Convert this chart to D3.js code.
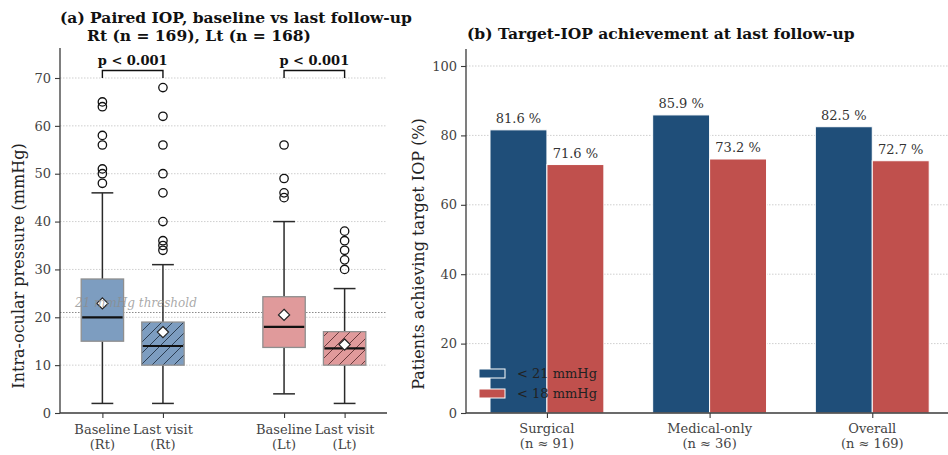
<!DOCTYPE html>
<html>
<head>
<meta charset="utf-8">
<script src="https://cdn.jsdelivr.net/npm/d3@7"></script>
<style>
  html, body { margin: 0; padding: 0; background: #fff; }
  svg { display: block; font-family: "DejaVu Serif", serif; }
</style>
</head>
<body>
<svg id="chart" width="948" height="455"></svg>
<script>
// ---- Panel (a): paired IOP box plots ----
const boxLabels = [["Baseline", "(Rt)"], ["Last visit", "(Rt)"], ["Baseline", "(Lt)"], ["Last visit", "(Lt)"]];
const boxPositions = [1, 2, 4, 5];
const boxQ1 = [15, 10, 13.7, 10];
const boxMedian = [20, 14, 18, 13.5];
const boxQ3 = [28, 19, 24.3, 17];
const whiskerLow = [2, 2, 4, 2];
const whiskerHigh = [46, 31, 40, 26];
const boxMean = [22.9, 16.9, 20.5, 14.3];
const boxOutliers = [
  [48, 50, 51, 56, 58, 64, 65],
  [34, 35, 36, 40, 46, 50, 56, 62, 68],
  [45, 46, 49, 56],
  [30, 32, 34, 36, 38]
];
const boxHatched = [false, true, false, true];
const boxEye = ["Rt", "Rt", "Lt", "Lt"];
const iopTicks = [0, 10, 20, 30, 40, 50, 60, 70];
const threshold = 21;
const pairs = [[1, 2, "p < 0.001"], [4, 5, "p < 0.001"]];

// ---- Panel (b): target-IOP achievement ----
const groupNames = [["Surgical", "(n \u2248 91)"], ["Medical-only", "(n \u2248 36)"], ["Overall", "(n \u2248 169)"]];
const below21 = [81.6, 85.9, 82.5];
const below18 = [71.6, 73.2, 72.7];
const seriesNames = ["< 21 mmHg", "< 18 mmHg"];
const pctTicks = [0, 20, 40, 60, 80, 100];

const svg = d3.select("#chart");
const axisColor = "#3a3a3a";
const tickText = "#444";
const tickSize = 13;

const eyeFill = { Rt: "#7d9dc0", Lt: "#e09a9b" };
const eyeHatch = { Rt: "#2d3e52", Lt: "#6a3a3c" };
const barColors = ["#1f4e79", "#c0504d"];

// hatch patterns for follow-up boxes
const defs = svg.append("defs");
Object.keys(eyeFill).forEach(k => {
  const p = defs.append("pattern")
    .attr("id", "hatch-" + k)
    .attr("patternUnits", "userSpaceOnUse")
    .attr("width", 11).attr("height", 11);
  p.append("rect").attr("width", 11).attr("height", 11).attr("fill", eyeFill[k]);
  p.append("path")
    .attr("d", "M0,11 L11,0 M-3,3 L3,-3 M8,14 L14,8")
    .attr("stroke", eyeHatch[k]).attr("stroke-width", 1);
});

// ===== Panel (a) =====
const xA = d3.scaleLinear().domain([0.3, 5.7]).range([60, 387]);
const yA = d3.scaleLinear().domain([0, 70]).range([413, 78]);
const gA = svg.append("g");

// grid
gA.append("g").selectAll("line").data(iopTicks.filter(t => t > 0)).join("line")
  .attr("x1", 60).attr("x2", 387)
  .attr("y1", d => yA(d)).attr("y2", d => yA(d))
  .attr("stroke", "#cfcfcf").attr("stroke-width", 1).attr("stroke-dasharray", "1.5,1.5");

// threshold line
gA.append("line")
  .attr("x1", 60).attr("x2", 387)
  .attr("y1", yA(threshold)).attr("y2", yA(threshold))
  .attr("stroke", "#8a8a8a").attr("stroke-width", 1.2).attr("stroke-dasharray", "1.5,1.5");

const boxW = 0.7, capW = 0.36;
const boxes = gA.append("g").selectAll("g").data(boxPositions.map((p, i) => i)).join("g");

// whiskers
boxes.append("line")
  .attr("x1", i => xA(boxPositions[i])).attr("x2", i => xA(boxPositions[i]))
  .attr("y1", i => yA(whiskerLow[i])).attr("y2", i => yA(boxQ1[i]))
  .attr("stroke", "#2a2a2a").attr("stroke-width", 1.5);
boxes.append("line")
  .attr("x1", i => xA(boxPositions[i])).attr("x2", i => xA(boxPositions[i]))
  .attr("y1", i => yA(boxQ3[i])).attr("y2", i => yA(whiskerHigh[i]))
  .attr("stroke", "#2a2a2a").attr("stroke-width", 1.5);
// caps
[whiskerLow, whiskerHigh].forEach(arr => {
  boxes.append("line")
    .attr("x1", i => xA(boxPositions[i] - capW / 2)).attr("x2", i => xA(boxPositions[i] + capW / 2))
    .attr("y1", i => yA(arr[i])).attr("y2", i => yA(arr[i]))
    .attr("stroke", "#2a2a2a").attr("stroke-width", 1.5);
});
// boxes
boxes.append("rect")
  .attr("x", i => xA(boxPositions[i] - boxW / 2))
  .attr("width", i => xA(boxPositions[i] + boxW / 2) - xA(boxPositions[i] - boxW / 2))
  .attr("y", i => yA(boxQ3[i]))
  .attr("height", i => yA(boxQ1[i]) - yA(boxQ3[i]))
  .attr("fill", i => boxHatched[i] ? "url(#hatch-" + boxEye[i] + ")" : eyeFill[boxEye[i]])
  .attr("stroke", "#8f8f8f").attr("stroke-width", 1.3);

// threshold label
gA.append("text")
  .attr("x", 75).attr("y", yA(threshold) - 6)
  .attr("font-size", 12).attr("font-style", "italic")
  .attr("fill", "#8c8c8c").attr("fill-opacity", 0.75)
  .text("21 mmHg threshold");

// medians
boxes.append("line")
  .attr("x1", i => xA(boxPositions[i] - boxW / 2) + 1).attr("x2", i => xA(boxPositions[i] + boxW / 2) - 1)
  .attr("y1", i => yA(boxMedian[i])).attr("y2", i => yA(boxMedian[i]))
  .attr("stroke", "#111").attr("stroke-width", 2.2);
// means
boxes.append("path")
  .attr("d", d3.symbol(d3.symbolDiamond2, 80)())
  .attr("transform", i => `translate(${xA(boxPositions[i])},${yA(boxMean[i])})`)
  .attr("fill", "#fff").attr("stroke", "#222").attr("stroke-width", 1.2);
// outliers
boxes.each(function(i) {
  d3.select(this).selectAll("circle").data(boxOutliers[i]).join("circle")
    .attr("cx", xA(boxPositions[i])).attr("cy", d => yA(d)).attr("r", 4.2)
    .attr("fill", "none").attr("stroke", "#111").attr("stroke-width", 1.3);
});

// significance brackets
pairs.forEach(([a, b, label]) => {
  const yb = 70.5, yl = 78;
  gA.append("path")
    .attr("d", `M${xA(a)},${yl} L${xA(a)},${yb} L${xA(b)},${yb} L${xA(b)},${yl}`)
    .attr("fill", "none").attr("stroke", "#111").attr("stroke-width", 1.4);
  gA.append("text")
    .attr("x", (xA(a) + xA(b)) / 2).attr("y", 65)
    .attr("text-anchor", "middle").attr("font-size", 13).attr("font-weight", "bold")
    .attr("fill", "#111").text(label);
});

// axes
const axLeftA = gA.append("g").attr("transform", "translate(60,0)")
  .call(d3.axisLeft(yA).tickValues(iopTicks).tickSize(5).tickPadding(4));
const yTop = 48;
axLeftA.select(".domain").attr("d", `M0,${yTop}V413`);
const axBottomA = gA.append("g").attr("transform", "translate(0,413)")
  .call(d3.axisBottom(xA).tickValues(boxPositions).tickSize(5).tickFormat(""));
axBottomA.select(".domain").attr("d", "M60,0H387");
[axLeftA, axBottomA].forEach(ax => {
  ax.select(".domain").attr("stroke", axisColor).attr("stroke-width", 1.3);
  ax.selectAll(".tick line").attr("stroke", axisColor).attr("stroke-width", 1.1);
  ax.selectAll(".tick text").attr("fill", tickText).attr("font-size", tickSize).attr("font-family", "DejaVu Serif");
});
gA.append("g").selectAll("text").data(boxPositions.map((p, i) => i)).join("text")
  .attr("text-anchor", "middle").attr("font-size", tickSize).attr("fill", tickText)
  .each(function(i) {
    d3.select(this).append("tspan").attr("x", xA(boxPositions[i])).attr("y", 434).text(boxLabels[i][0]);
    d3.select(this).append("tspan").attr("x", xA(boxPositions[i])).attr("y", 449).text(boxLabels[i][1]);
  });

// y label
gA.append("text")
  .attr("transform", "translate(24,266) rotate(-90)")
  .attr("text-anchor", "middle").attr("font-size", 16).attr("fill", "#222")
  .text("Intra-ocular pressure (mmHg)");

// title
gA.append("text").attr("x", 60).attr("y", 22.5)
  .attr("font-size", 15.5).attr("font-weight", "bold").attr("fill", "#111")
  .text("(a)  Paired IOP, baseline vs last follow-up");
gA.append("text").attr("x", 87).attr("y", 41)
  .attr("font-size", 15.5).attr("font-weight", "bold").attr("fill", "#111")
  .text("Rt (n = 169), Lt (n = 168)");

// ===== Panel (b) =====
const xB = d3.scaleLinear().domain([-0.5, 2.5]).range([465.6, 953.6]);
const yB = d3.scaleLinear().domain([0, 100]).range([413, 66]);
const barW = 0.35;
const gB = svg.append("g");

gB.append("g").selectAll("line").data(pctTicks.filter(t => t > 0)).join("line")
  .attr("x1", 466).attr("x2", 948)
  .attr("y1", d => yB(d)).attr("y2", d => yB(d))
  .attr("stroke", "#cfcfcf").attr("stroke-width", 1).attr("stroke-dasharray", "1.5,1.5");

const seriesVals = [below21, below18];
seriesVals.forEach((vals, s) => {
  const off = s === 0 ? -barW / 2 : barW / 2;
  gB.append("g").selectAll("rect").data(vals).join("rect")
    .attr("x", (d, i) => xB(i + off - barW / 2))
    .attr("width", (d, i) => xB(i + off + barW / 2) - xB(i + off - barW / 2))
    .attr("y", d => yB(d))
    .attr("height", d => yB(0) - yB(d))
    .attr("fill", barColors[s])
    .attr("stroke", "#fff").attr("stroke-width", 1);
  gB.append("g").selectAll("text").data(vals).join("text")
    .attr("x", (d, i) => xB(i + off))
    .attr("y", d => yB(d) - 7)
    .attr("text-anchor", "middle").attr("font-size", 13).attr("fill", "#333")
    .text(d => d.toFixed(1) + " %");
});

const axLeftB = gB.append("g").attr("transform", "translate(466,0)")
  .call(d3.axisLeft(yB).tickValues(pctTicks).tickSize(5).tickPadding(4));
axLeftB.select(".domain").attr("d", "M0,49V413");
const axBottomB = gB.append("g").attr("transform", "translate(0,413)")
  .call(d3.axisBottom(xB).tickValues([0, 1, 2]).tickSize(5).tickFormat(""));
axBottomB.select(".domain").attr("d", "M466,0H948");
[axLeftB, axBottomB].forEach(ax => {
  ax.select(".domain").attr("stroke", axisColor).attr("stroke-width", 1.3);
  ax.selectAll(".tick line").attr("stroke", axisColor).attr("stroke-width", 1.1);
  ax.selectAll(".tick text").attr("fill", tickText).attr("font-size", tickSize).attr("font-family", "DejaVu Serif");
});
gB.append("g").selectAll("text").data(groupNames).join("text")
  .attr("text-anchor", "middle").attr("font-size", tickSize).attr("fill", tickText)
  .each(function(d, i) {
    d3.select(this).append("tspan").attr("x", xB(i)).attr("y", 433).text(d[0]);
    d3.select(this).append("tspan").attr("x", xB(i)).attr("y", 448).text(d[1]);
  });

gB.append("text")
  .attr("transform", "translate(424,254) rotate(-90)")
  .attr("text-anchor", "middle").attr("font-size", 16).attr("fill", "#222")
  .text("Patients achieving target IOP (%)");

gB.append("text").attr("x", 467).attr("y", 39)
  .attr("font-size", 15.5).attr("font-weight", "bold").attr("fill", "#111")
  .text("(b)  Target-IOP achievement at last follow-up");

// legend
const leg = gB.append("g").selectAll("g").data(seriesNames).join("g")
  .attr("transform", (d, i) => `translate(479,${369 + i * 20})`);
leg.append("rect").attr("width", 26).attr("height", 9)
  .attr("fill", (d, i) => barColors[i]).attr("stroke", "#fff").attr("stroke-width", 1);
leg.append("text").attr("x", 38).attr("y", 9).attr("font-size", 13).attr("fill", "#222")
  .text(d => d);
</script>
</body>
</html>
